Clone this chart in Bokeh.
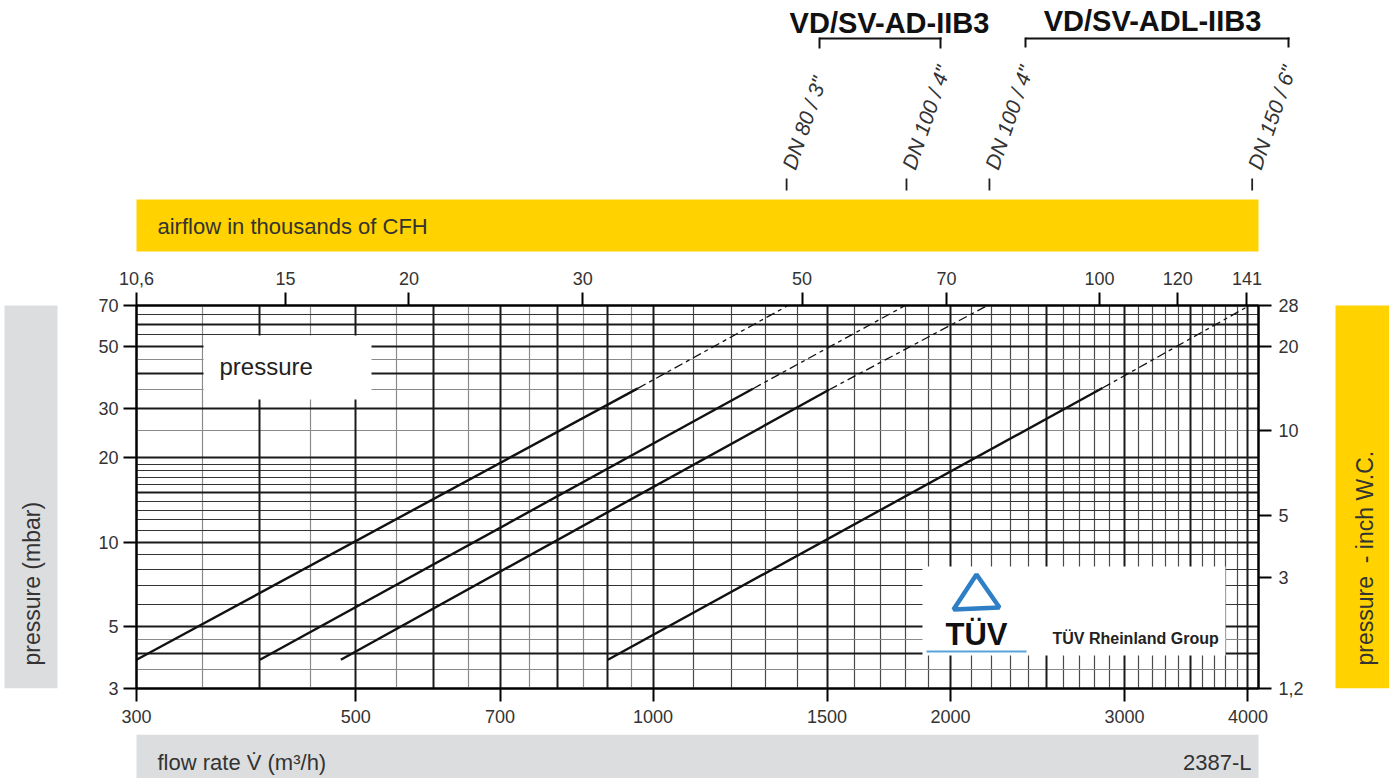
from bokeh.plotting import figure
from bokeh.layouts import column, row
from bokeh.models import (Range1d, LogScale, LogAxis, FixedTicker, BasicTickFormatter,
                          Grid, Label, BoxAnnotation, PolyAnnotation)
from bokeh.embed import file_html
from bokeh.resources import INLINE

# ---------------- data ----------------
flow_ticks = [300, 500, 700, 1000, 1500, 2000, 3000, 4000]
flow_labels = ["300", "500", "700", "1000", "1500", "2000", "3000", "4000"]
cfh_ticks = [10.6, 15, 20, 30, 50, 70, 100, 120, 141]
cfh_labels = ["10,6", "15", "20", "30", "50", "70", "100", "120", "141"]
mbar_ticks = [3, 5, 10, 20, 30, 50, 70]
mbar_labels = ["3", "5", "10", "20", "30", "50", "70"]
inch_ticks = [1.2, 3, 5, 10, 20, 28]
inch_labels = ["1,2", "3", "5", "10", "20", "28"]

# grid lines of the log paper
vgrid_bold = [400, 500, 600, 700, 800, 900, 1000, 1500, 2000, 2500, 3000, 3500, 4000]
vgrid_half = [350, 450, 550, 650, 750, 850, 950]
vgrid_thin = [1100, 1200, 1300, 1400, 1600, 1700, 1800, 1900,
              2100, 2200, 2300, 2400, 2600, 2700, 2800, 2900,
              3100, 3200, 3300, 3400, 3600, 3700, 3800, 3900]
hgrid_bold = [4, 5, 10, 15, 20, 30, 40, 50, 60]
hgrid_thin = [6, 7, 8, 9, 11, 12, 13, 14, 16, 17, 18, 19, 55, 65]
hgrid_light = [3.5, 4.5, 25, 35, 45]

# valve curves: solid rated part and dashed extension (flow m3/h, pressure mbar)
dn80_ad_flow = [300, 965];    dn80_ad_p = [3.8, 35.4]
dn80_ad_flow_x = [965, 1370]; dn80_ad_p_x = [35.4, 70]
dn100_ad_flow = [400, 1262];    dn100_ad_p = [3.8, 35.3]
dn100_ad_flow_x = [1262, 1800]; dn100_ad_p_x = [35.3, 70]
dn100_adl_flow = [483, 1507];    dn100_adl_p = [3.8, 35.0]
dn100_adl_flow_x = [1507, 2180]; dn100_adl_p_x = [35.0, 70]
dn150_adl_flow = [900, 2850];    dn150_adl_p = [3.8, 35.5]
dn150_adl_flow_x = [2850, 4000]; dn150_adl_p_x = [35.5, 69.5]

dn_names = ['DN 80 / 3"', 'DN 100 / 4"', 'DN 100 / 4"', 'DN 150 / 6"']
dn_flow = [1365, 1805, 2190, 4040]

FONT = "Liberation Sans"
YELLOW = "#ffd200"
GREY = "#dcdddf"
TXT = "#333333"

FLOW_MIN, FLOW_MAX = 300, 4100
P_MIN, P_MAX = 3, 70

# page layout (pixels): top strip 0..258, chart row 258..734, bottom strip 734..778
W, H = 1389, 778
TOP_H = 258
ROW_Y0, ROW_Y1 = 258, 734
L_W, R_W = 66, 66
FRAME_L, FRAME_R, FRAME_T, FRAME_B = 136, 1258, 305, 688


class Panel:
    """Helper turning page pixel positions into frame-relative screen units."""
    def __init__(self, fig, x0, y0, h):
        self.f, self.x0, self.y0, self.h = fig, x0, y0, h

    def sx(self, px):
        return px - self.x0

    def sy(self, py):
        return self.y0 + self.h - py

    def box(self, x0, x1, y0, y1, color):
        self.f.add_layout(BoxAnnotation(
            left=self.sx(x0), right=self.sx(x1), top=self.sy(y0), bottom=self.sy(y1),
            left_units="screen", right_units="screen", top_units="screen", bottom_units="screen",
            fill_color=color, fill_alpha=1, line_color=None))

    def label(self, x, y, text, size, align="left", baseline="middle", angle=0,
              color=TXT, style="normal"):
        self.f.add_layout(Label(
            x=self.sx(x), y=self.sy(y), x_units="screen", y_units="screen", text=text,
            text_font=FONT, text_font_size=size, text_color=color, text_font_style=style,
            text_align=align, text_baseline=baseline, angle=angle, angle_units="deg"))


def blank(w, h, x_range=None, x_type="linear", **kw):
    f = figure(width=w, height=h, output_backend="svg", toolbar_location=None,
               x_axis_location=None, y_axis_location=None,
               x_axis_type=x_type,
               x_range=x_range if x_range is not None else Range1d(0, w),
               y_range=Range1d(0, h), **kw)
    f.grid.visible = False
    f.outline_line_color = None
    f.background_fill_color = "white"
    f.border_fill_color = "white"
    return f


# ---------------- main chart ----------------
M_W = W - L_W - R_W
M_H = ROW_Y1 - ROW_Y0
p = figure(width=M_W, height=M_H, x_axis_type="log", y_axis_type="log",
           x_range=Range1d(FLOW_MIN, FLOW_MAX), y_range=Range1d(P_MIN, P_MAX),
           output_backend="svg", toolbar_location=None,
           min_border_left=FRAME_L - L_W, min_border_right=(W - R_W) - FRAME_R,
           min_border_top=FRAME_T - ROW_Y0, min_border_bottom=ROW_Y1 - FRAME_B)
p.background_fill_color = "white"
p.border_fill_color = "white"
p.outline_line_color = "black"
p.outline_line_width = 2
p.grid.visible = False

p.extra_x_ranges = {"cfh": Range1d(10.6, 10.6 * FLOW_MAX / FLOW_MIN)}
p.extra_x_scales = {"cfh": LogScale()}
p.extra_y_ranges = {"inch": Range1d(1.2, 28.1)}
p.extra_y_scales = {"inch": LogScale()}


def style_axis(ax, ticks, labels, standoff):
    ax.ticker = FixedTicker(ticks=ticks)
    ax.formatter = BasicTickFormatter(use_scientific=False)
    ax.major_label_overrides = dict(zip(ticks, labels))
    ax.axis_line_color = "black"
    ax.axis_line_width = 2
    ax.major_tick_line_color = "black"
    ax.major_tick_line_width = 2
    ax.major_tick_out = 13
    ax.major_tick_in = 0
    ax.minor_tick_out = 0
    ax.minor_tick_in = 0
    ax.major_label_text_font = FONT
    ax.major_label_text_font_size = "18px"
    ax.major_label_text_color = TXT
    ax.major_label_standoff = standoff


style_axis(p.below[0], flow_ticks, flow_labels, 8)
style_axis(p.left[0], mbar_ticks, mbar_labels, 5)
top_ax = LogAxis(x_range_name="cfh")
style_axis(top_ax, cfh_ticks, cfh_labels, 8)
p.add_layout(top_ax, "above")
right_ax = LogAxis(y_range_name="inch")
style_axis(right_ax, inch_ticks, inch_labels, 7)
p.add_layout(right_ax, "right")


def add_grid(dim, ticks, color, width):
    p.add_layout(Grid(dimension=dim, ticker=FixedTicker(ticks=ticks),
                      grid_line_color=color, grid_line_width=width))


add_grid(0, vgrid_half, "#8a8a8a", 1.2)
add_grid(0, vgrid_thin, "#4a4a4a", 1.2)
add_grid(1, hgrid_light, "#8a8a8a", 1.2)
add_grid(1, hgrid_thin, "#333333", 1.1)
add_grid(0, vgrid_bold, "#1a1a1a", 2)
add_grid(1, hgrid_bold, "#1a1a1a", 2)

curves = [(dn80_ad_flow, dn80_ad_p, dn80_ad_flow_x, dn80_ad_p_x),
          (dn100_ad_flow, dn100_ad_p, dn100_ad_flow_x, dn100_ad_p_x),
          (dn100_adl_flow, dn100_adl_p, dn100_adl_flow_x, dn100_adl_p_x),
          (dn150_adl_flow, dn150_adl_p, dn150_adl_flow_x, dn150_adl_p_x)]
for fx, fy, dx, dy in curves:
    p.line(fx, fy, line_color="#111111", line_width=2.4)
    p.line(dx, dy, line_color="#111111", line_width=1.3, line_dash="9 4 4 4")

mp = Panel(p, FRAME_L, FRAME_T, FRAME_B - FRAME_T)
# inner "pressure" box
mp.box(203, 371, 335, 399, "white")
mp.label(219, 366, "pressure", "24px", color="#222222")
# TUV logo box
mp.box(922, 1225, 566, 655, "white")
p.add_layout(PolyAnnotation(xs=[mp.sx(976), mp.sx(953), mp.sx(999)],
                            ys=[mp.sy(574), mp.sy(609), mp.sy(607)],
                            xs_units="screen", ys_units="screen",
                            fill_color=None, line_color="#2f7fc6", line_alpha=1, line_width=4.5))
mp.box(926, 1026, 650, 652, "#5aa3da")
mp.label(976, 634, "T\u00dcV", "31px", align="center", style="bold", color="#111111")
mp.label(1052, 638, "T\u00dcV Rheinland Group", "16px", style="bold", color="#222222")

# ---------------- left / right side strips ----------------
# these figures share the chart's frame rows (frames are aligned in a row)
side_kw = dict(min_border_top=FRAME_T - ROW_Y0, min_border_bottom=ROW_Y1 - FRAME_B,
               min_border_left=0, min_border_right=0)
lf = blank(L_W, M_H, **side_kw)
lp = Panel(lf, 0, FRAME_T, FRAME_B - FRAME_T)
lp.box(4, 57, 302, 688, GREY)
lp.label(31, 665, "pressure (mbar)", "23px", angle=90)

rf = blank(R_W, M_H, **side_kw)
rpn = Panel(rf, W - R_W, FRAME_T, FRAME_B - FRAME_T)
rpn.box(1335, 1389, 303, 688, YELLOW)
rpn.label(1364, 665, "pressure \u00a0- inch W.C.", "23px", angle=90)

# ---------------- top strip ----------------
span_dec = (FRAME_R - FRAME_L)
q_left = FLOW_MIN * (FLOW_MAX / FLOW_MIN) ** ((0 - FRAME_L) / span_dec)
q_right = FLOW_MIN * (FLOW_MAX / FLOW_MIN) ** ((W - FRAME_L) / span_dec)
tf = blank(W, TOP_H, x_range=Range1d(q_left, q_right), x_type="log", min_border=0)
tp = Panel(tf, 0, 0, TOP_H)
tp.box(136, 1258, 199, 251, YELLOW)
tp.label(157, 226, "airflow in thousands of CFH", "22px")

for name, q in zip(dn_names, dn_flow):
    tf.add_layout(PolyAnnotation(xs=[q, q], ys=[tp.sy(178), tp.sy(190)],
                                 xs_units="data", ys_units="screen",
                                 fill_color=None, line_color="#222222", line_alpha=1,
                                 line_width=1.8))
    tf.add_layout(Label(x=q, y=tp.sy(168), x_units="data", y_units="screen", text=name,
                        text_font=FONT, text_font_size="21px", text_color=TXT,
                        text_font_style="italic", text_align="left", text_baseline="middle",
                        angle=71, angle_units="deg", x_offset=2))

# series brackets and titles
tp.box(819, 941, 37, 39, "#111111")
tp.box(818, 820, 37, 48, "#111111")
tp.box(939, 941, 37, 48, "#111111")
tp.box(1025, 1289, 37, 39, "#111111")
tp.box(1024, 1026, 37, 47, "#111111")
tp.box(1287, 1289, 37, 47, "#111111")
tp.label(889, 22, "VD/SV-AD-IIB3", "29px", align="center", style="bold", color="#111111")
tp.label(1152, 20, "VD/SV-ADL-IIB3", "29px", align="center", style="bold", color="#111111")

# ---------------- bottom strip ----------------
B_H = H - ROW_Y1
bf = blank(W, B_H, min_border=0)
bp = Panel(bf, 0, ROW_Y1, B_H)
bp.box(136, 1258, 734, 778, GREY)
bp.label(157, 762, "flow rate V\u0307 (m\u00b3/h)", "22px")
bp.label(1251, 762, "2387-L", "22px", align="right")

layout = column(tf, row(lf, p, rf), bf)
open("out.html", "w").write(file_html(layout, INLINE))
